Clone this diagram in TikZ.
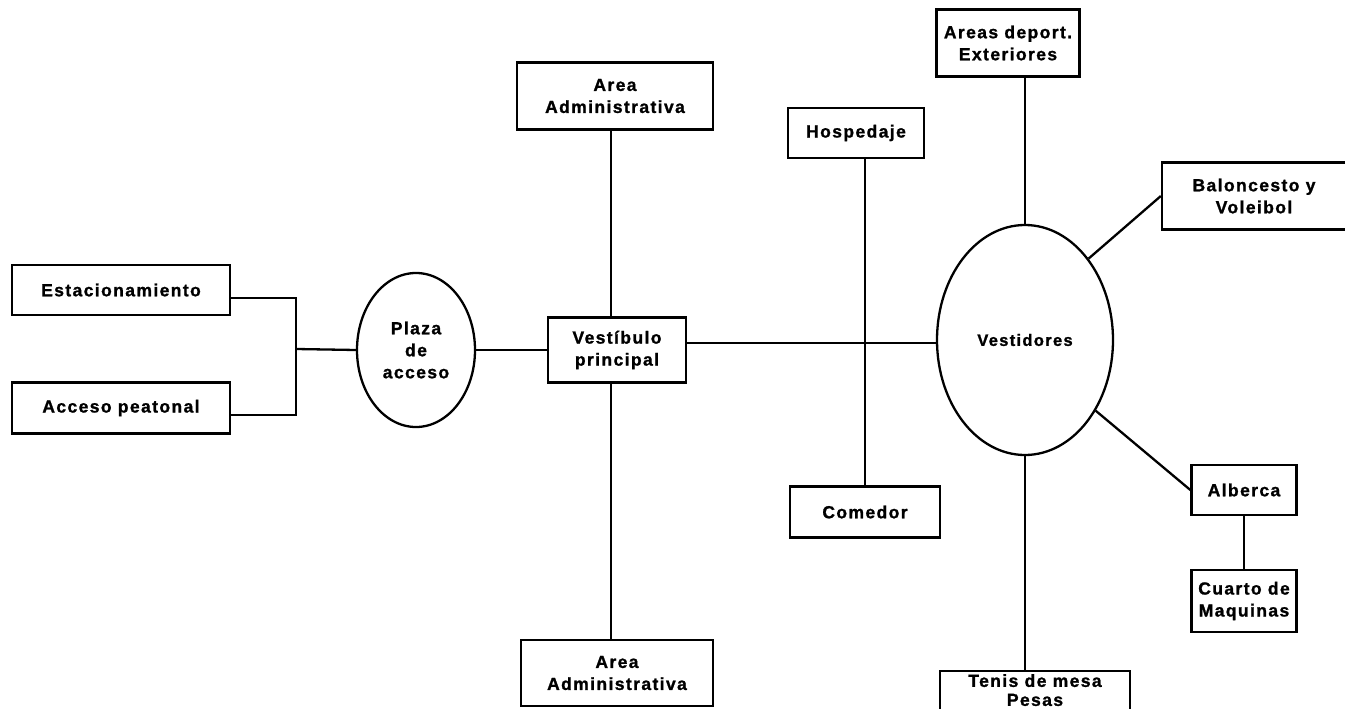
\documentclass[tikz,border=0pt]{standalone}
\usepackage{fontspec}
\setmainfont{Liberation Sans}[LetterSpace=8, BoldFeatures={FakeBold=1.2}]
\usetikzlibrary{shapes.geometric}
\tikzset{
  box/.style={draw, line width=2.3pt, rectangle, align=center, inner sep=0pt,
    font=\fontsize{17.5}{22}\selectfont\bfseries},
  oval/.style={draw, line width=2.3pt, ellipse, align=center, inner sep=0pt,
    font=\fontsize{17.5}{22}\selectfont\bfseries},
  txt/.style={align=center, inner sep=0pt, font=\fontsize{17.5}{19}\selectfont\bfseries},
  link/.style={line width=2.3pt}
}
\begin{document}
\begin{tikzpicture}[x=1pt, y=-1pt]
\clip (0,0) rectangle (1345,709);
\fill[white] (0,0) rectangle (1345,709);
% left side
\node[box, minimum width=218pt, minimum height=50pt] (est) at (121,290) {Estacionamiento};
\node[box, minimum width=218pt, minimum height=51pt] (acc) at (121,408) {Acceso peatonal};
\node[oval, minimum width=118pt, minimum height=154pt] (plaza) at (416,350) {Plaza\\de\\acceso};
\coordinate (br) at (296,349);
\draw[link] ([yshift=-8pt]est.east) -| (br);
\draw[link] ([yshift=-7pt]acc.east) -| (br);
\draw[link] (br) -- (plaza.west);
% centre
\node[box, minimum width=138pt, minimum height=65pt] (vest) at (617,350) {Vestíbulo\\principal};
\node[box, minimum width=196pt, minimum height=67pt] (adm1) at (615,96) {Area\\Administrativa};
\node[box, minimum width=192pt, minimum height=66pt] (adm2) at (617,673) {Area\\Administrativa};
\draw[link] (plaza.east) -- (vest.west);
\draw[link] ([xshift=-4pt]adm1.south) -- ([xshift=-4pt]adm1.south |- vest.north);
\draw[link] ([xshift=-6pt]vest.south) -- ([xshift=-6pt]vest.south |- adm2.north);
% hospedaje / comedor
\node[box, minimum width=136pt, minimum height=50pt] (hosp) at (856,133) {Hospedaje};
\node[box, minimum width=150pt, minimum height=51pt] (com) at (865,512) {Comedor};
\draw[link] (com.north) -- (com.north |- hosp.south);
% vestidores
\node[oval, minimum width=176pt, minimum height=230pt, font=\fontsize{16.5}{18}\selectfont\bfseries] (vesti) at (1025,340) {Vestidores};
\draw[link] ([yshift=7pt]vest.east) -- ([yshift=-3pt]vesti.west);
\node[box, minimum width=143pt, minimum height=67pt] (areas) at (1008,43) {Areas deport.\\Exteriores};
\draw[link] (vesti.north) -- (vesti.north |- areas.south);
\node[box, minimum width=196pt, minimum height=67pt] (balo) at (1260,196) {\hspace*{-12pt}Baloncesto y\\\hspace*{-12pt}Voleibol};
\draw[link] (vesti.52) -- (balo.west);
\node[box, minimum width=105pt, minimum height=50pt] (albe) at (1244,490) {Alberca};
\draw[link] (vesti.-45) -- (albe.west);
\node[box, minimum width=105pt, minimum height=62pt] (cuarto) at (1244,601) {Cuarto de\\Maquinas};
\draw[link] (albe.south) -- (cuarto.north);
\node[box, minimum width=190pt, minimum height=60pt, anchor=north] (tenis) at (1035,670) {};
\node[txt, anchor=north] (tenistxt) at ([yshift=-4pt]tenis.north) {Tenis de mesa\\Pesas};
\draw[link] (vesti.south) -- (vesti.south |- tenis.north);
\end{tikzpicture}
\end{document}
